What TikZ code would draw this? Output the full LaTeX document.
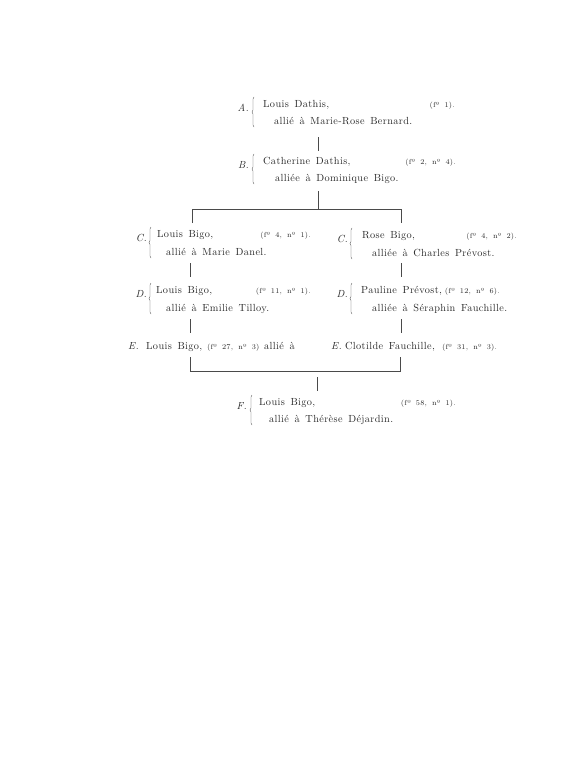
\documentclass[tikz,border=0pt]{standalone}
\usepackage{fontspec}
\setmainfont{Latin Modern Roman}[LetterSpace=3.5,WordSpace=1.5]
\newfontfamily\smallfam{Latin Modern Roman}[LetterSpace=3,WordSpace=1.7]
\usetikzlibrary{decorations.pathreplacing}
\definecolor{ink}{HTML}{2A2A2A}
\definecolor{rule}{HTML}{4A4A4A}
\newcommand{\mainfnt}{\fontsize{10.3}{12}\selectfont}
\newcommand{\smallfnt}{\smallfam\fontsize{7.3}{8}\selectfont}
\tikzset{
  txt/.style={anchor=base west, inner sep=0pt, font=\mainfnt, text=ink},
  refr/.style={anchor=base east, inner sep=0pt, font=\smallfnt, text=ink},
  refl/.style={anchor=base west, inner sep=0pt, font=\smallfnt, text=ink},
  lbl/.style={anchor=base east, inner sep=0pt, font=\mainfnt\itshape, text=ink},
  lblw/.style={anchor=base west, inner sep=0pt, font=\mainfnt\itshape, text=ink},
  conn/.style={draw=rule, line width=0.6pt},
  brc/.style={draw=rule, line width=0.4pt, decorate, decoration={brace, amplitude=2pt}}
}
\begin{document}
\begin{tikzpicture}[x=1pt,y=-1pt]
\useasboundingbox[fill=white] (0,0) rectangle (588,768);

% ---------- A ----------
\node[lbl] (alab) at (249,111) {A.};
\node[txt] (a1) at (263,107) {Louis Dathis,};
\node[refr] (aref) at (455,107) {(fº 1).};
\node[txt] (a2) at (274,124) {allié à Marie-Rose Bernard.};
\coordinate (abr1) at (254,127); \coordinate (abr2) at (254,97);
\draw[brc] (abr1) -- (abr2);

\coordinate (ab1) at (318,137); \coordinate (ab2) at (318,151);
\draw[conn] (ab1) -- (ab2);

% ---------- B ----------
\node[lbl] (blab) at (249,168) {B.};
\node[txt] (b1) at (263,164) {Catherine Dathis,};
\node[refr] (bref) at (456,164) {(fº 2, nº 4).};
\node[txt] (b2) at (275,181) {alliée à Dominique Bigo.};
\coordinate (bbr1) at (254,184); \coordinate (bbr2) at (254,154);
\draw[brc] (bbr1) -- (bbr2);

% top bracket
\coordinate (bt) at (318,191); \coordinate (tM) at (318,209);
\coordinate (tL) at (192,209); \coordinate (tR) at (401,209);
\coordinate (tLd) at (192,223); \coordinate (tRd) at (401,223);
\draw[conn] (bt) -- (tM);
\draw[conn] (tLd) -- (tL) -- (tR) -- (tRd);

% ---------- C left ----------
\node[lbl] (clab) at (147,241) {C.};
\node[txt] (c1) at (157,237) {Louis Bigo,};
\node[refr] (cref) at (311,237) {(fº 4, nº 1).};
\node[txt] (c2) at (166,255) {allié à Marie Danel.};
\coordinate (cbr1) at (151,258); \coordinate (cbr2) at (151,227);
\draw[brc] (cbr1) -- (cbr2);

% ---------- C right ----------
\node[lbl] (crlab) at (348,242) {C.};
\node[txt] (cr1) at (362,238) {Rose Bigo,};
\node[refr] (crref) at (517,238) {(fº 4, nº 2).};
\node[txt] (cr2) at (372,256) {alliée à Charles Prévost.};
\coordinate (crbr1) at (352,259); \coordinate (crbr2) at (352,228);
\draw[brc] (crbr1) -- (crbr2);

\coordinate (cd1) at (190,263); \coordinate (cd2) at (190,277);
\draw[conn] (cd1) -- (cd2);
\coordinate (crd1) at (401,263); \coordinate (crd2) at (401,277);
\draw[conn] (crd1) -- (crd2);

% ---------- D left ----------
\node[lbl] (dlab) at (147,297) {D.};
\node[txt] (d1) at (156,293) {Louis Bigo,};
\node[refr] (dref) at (311,293) {(fº 11, nº 1).};
\node[txt] (d2) at (166,311) {allié à Emilie Tilloy.};
\coordinate (dbr1) at (151,314); \coordinate (dbr2) at (151,283);
\draw[brc] (dbr1) -- (dbr2);

% ---------- D right ----------
\node[lbl] (drlab) at (348,297) {D.};
\node[txt] (dr1) at (361,293) {Pauline Prévost,};
\node[refr] (drref) at (500,293) {(fº 12, nº 6).};
\node[txt] (dr2) at (372,311) {alliée à Séraphin Fauchille.};
\coordinate (drbr1) at (352,314); \coordinate (drbr2) at (352,283);
\draw[brc] (drbr1) -- (drbr2);

\coordinate (de1) at (190,319); \coordinate (de2) at (190,333);
\draw[conn] (de1) -- (de2);
\coordinate (dre1) at (401,319); \coordinate (dre2) at (401,333);
\draw[conn] (dre1) -- (dre2);

% ---------- E left ----------
\node[lblw] (elab) at (128,349) {E.};
\node[txt] (e1) at (146,349) {Louis Bigo,};
\node[refl] (eref) at (207,349) {(fº 27, nº 3)};
\node[txt] (e2) at (264,349) {allié à};

% ---------- E right ----------
\node[lblw] (erlab) at (331,349) {E.};
\node[txt] (er1) at (345,349) {Clotilde Fauchille,};
\node[refl] (erref) at (442,349) {(fº 31, nº 3).};

% bottom bracket
\coordinate (bLu) at (190,357); \coordinate (bRu) at (400,357);
\coordinate (bL) at (190,371); \coordinate (bR) at (400,371);
\draw[conn] (bLu) -- (bL) -- (bR) -- (bRu);
\coordinate (fu1) at (317,377); \coordinate (fu2) at (317,391);
\draw[conn] (fu1) -- (fu2);

% ---------- F ----------
\node[lbl] (flab) at (247,409) {F.};
\node[txt] (f1) at (259,405) {Louis Bigo,};
\node[refr] (fref) at (456,405) {(fº 58, nº 1).};
\node[txt] (f2) at (269,422) {allié à Thérèse Déjardin.};
\coordinate (fbr1) at (252,425); \coordinate (fbr2) at (252,395);
\draw[brc] (fbr1) -- (fbr2);
\end{tikzpicture}
\end{document}
